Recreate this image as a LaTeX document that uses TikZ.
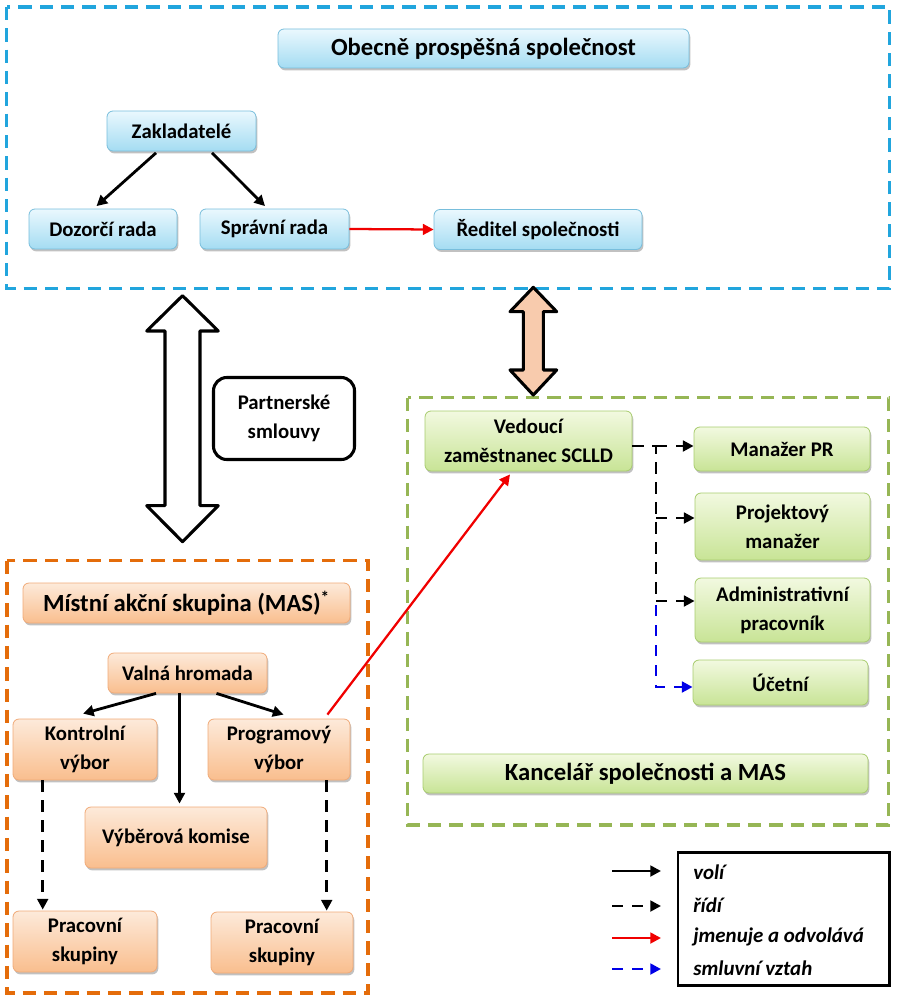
\documentclass[tikz,border=0pt]{standalone}
\usepackage{fontspec}
\setmainfont{Carlito}
\usetikzlibrary{arrows.meta,shadows,calc}
\definecolor{bluedash}{RGB}{33,165,221}
\definecolor{bluetop}{RGB}{234,248,254}
\definecolor{bluebot}{RGB}{164,220,242}
\definecolor{bluebd}{RGB}{120,190,220}
\definecolor{greendash}{RGB}{150,182,85}
\definecolor{greentop}{RGB}{242,249,224}
\definecolor{greenbot}{RGB}{200,228,150}
\definecolor{greenbd}{RGB}{168,204,110}
\definecolor{orangedash}{RGB}{228,108,10}
\definecolor{orangetop}{RGB}{253,234,218}
\definecolor{orangebot}{RGB}{249,190,142}
\definecolor{orangebd}{RGB}{240,170,120}
\definecolor{peach}{RGB}{248,203,173}
\definecolor{myred}{RGB}{240,0,0}
\definecolor{myblue}{RGB}{0,0,230}
\begin{document}
\begin{tikzpicture}[x=0.75pt,y=-0.75pt,
  sz/.style 2 args={minimum width=#1*0.75pt, minimum height=#2*0.75pt},
  base/.style={rectangle, rounded corners=4.5pt, inner sep=1pt, align=center,
    font=\bfseries\fontsize{15.6}{17.5}\selectfont,
    drop shadow={shadow xshift=1pt,shadow yshift=-1.8pt,opacity=0.35,fill=black!70}},
  two/.style={font=\bfseries\fontsize{15.6}{22}\selectfont},
  bigtext/.style={font=\bfseries\fontsize{18.5}{20}\selectfont},
  bluebox/.style={base, draw=bluebd, line width=0.6pt, top color=bluetop, bottom color=bluebot},
  greenbox/.style={base, draw=greenbd, line width=0.6pt, top color=greentop, bottom color=greenbot},
  orangebox/.style={base, draw=orangebd, line width=0.6pt, top color=orangetop, bottom color=orangebot},
  frame/.style={line width=2.3pt, dash pattern=on 10pt off 6pt},
  voli/.style={-{Triangle[length=8pt,width=8pt]}, line width=2.1pt, draw=black},
  ridi/.style={voli, dash pattern=on 8.5pt off 6.5pt},
  ridiline/.style={line width=2.1pt, dash pattern=on 8.5pt off 6.5pt},
  jmen/.style={-{Triangle[length=8pt,width=8pt]}, line width=1.7pt, draw=myred},
  smluv/.style={ridi, draw=myblue},
  legtext/.style={anchor=west, inner sep=0pt, font=\bfseries\itshape\fontsize{15.7}{17}\selectfont},
  bigarrow/.style={line width=2.3pt, line join=round, draw=black}
]
\useasboundingbox (0,0) rectangle (899,999);

% ---------- frames ----------
\draw[frame, draw=bluedash] (6.5,7) rectangle (889.5,288.5);
\draw[frame, draw=greendash] (407.5,397.5) rectangle (888.5,825);
\draw[frame, draw=orangedash] (7,560.5) rectangle (368,993);

% ---------- top: Obecne prospesna spolecnost ----------
\node[bluebox, bigtext, sz={411}{39}] (title) at (483.5,48.5) {Obecně prospěšná společnost};
\node[bluebox, sz={149}{40}] (zak) at (181.5,131) {Zakladatelé};
\node[bluebox, sz={148}{40}] (doz) at (103,229) {Dozorčí rada};
\node[bluebox, sz={149}{40}] (spr) at (274.5,229) {Správní rada};
\node[bluebox, sz={208}{40}] (red) at (538,229.5) {Ředitel společnosti};

\draw[voli] ($(zak.south)+(-25.5,1.5)$) -- ($(doz.north)+(-6.5,-2.5)$);
\draw[voli] ($(zak.south)+(30.5,1.5)$) -- ($(spr.north)+(-9.5,-2.5)$);
\draw[jmen] (spr.east) -- (red.west);

% ---------- big double arrows ----------
\draw[bigarrow, fill=white] (182.5,295.7) -- (218.3,331) -- (200,331) -- (200,505.7) -- (218.3,505.7)
  -- (182.5,541.7) -- (146.7,505.7) -- (165,505.7) -- (165,331) -- (146.7,331) -- cycle;
\draw[bigarrow, fill=peach] (533.3,287.3) -- (556.7,311.7) -- (543.3,311.7) -- (543.3,370) -- (556.7,370)
  -- (533.3,395) -- (510,370) -- (523.3,370) -- (523.3,311.7) -- (510,311.7) -- cycle;

\node[draw=black, line width=2.3pt, rounded corners=10pt, sz={141}{82}, align=center,
  font=\bfseries\fontsize{15.6}{22}\selectfont] (partner) at (284,418.5) {Partnerské\\smlouvy};

% ---------- right: kancelar ----------
\node[greenbox, two, sz={207}{60}] (vedouci) at (528.5,441) {Vedoucí\\zaměstnanec SCLLD};
\node[greenbox, sz={176}{44}] (manazer) at (782,449) {Manažer PR};
\node[greenbox, two, sz={175}{67}] (projekt) at (782.5,526.5) {Projektový\\manažer};
\node[greenbox, two, sz={175}{64}] (admin) at (782.5,610) {Administrativní\\pracovník};
\node[greenbox, sz={175}{45}] (ucetni) at (780.5,682.5) {Účetní};
\node[greenbox, bigtext, sz={445}{39}] (kancelar) at (645.5,773.5) {Kancelář společnosti a MAS};

\coordinate (j) at (656,446);
\draw[ridiline] ($(vedouci.east)+(0,5)$) -- (j) -- (656,601);
\draw[ridi] (j) -- ($(manazer.west)+(0,-3)$);
\draw[ridi] (656,518) -- ($(projekt.west)+(0,-8.5)$);
\draw[ridi] (656,601) -- ($(admin.west)+(0,-9)$);
\draw[smluv] (656,605) |- ($(ucetni.west)+(0,4.5)$);

% ---------- left: MAS ----------
\node[orangebox, bigtext, sz={327}{40}] (mas) at (186.5,603) {Místní akční skupina (MAS)\textsuperscript{*}};
\node[orangebox, sz={159}{40}] (valna) at (187.5,673) {Valná hromada};
\node[orangebox, two, sz={144}{61}] (kontrol) at (85,749.5) {Kontrolní\\výbor};
\node[orangebox, two, sz={142}{61}] (program) at (279,749.5) {Programový\\výbor};
\node[orangebox, sz={182}{61}] (vyber) at (176,837.5) {Výběrová komise};
\node[orangebox, two, sz={144}{61}] (prac1) at (85,941.5) {Pracovní\\skupiny};
\node[orangebox, two, sz={142}{61}] (prac2) at (282,942.5) {Pracovní\\skupiny};

\draw[voli] ($(valna.south)+(-31.5,0)$) -- ($(kontrol.north)+(-2,-5)$);
\draw[voli] ($(valna.south)+(29,0)$) -- ($(program.north)+(4.5,-4)$);
\draw[voli] ($(valna.south)+(-8,0)$) -- ($(vyber.north)+(3.5,-3)$);
\draw[ridi] ($(kontrol.south)+(-42.3,0)$) -- ($(prac1.north)+(-42.3,-1)$);
\draw[ridi] ($(program.south)+(47.7,0)$) -- ($(prac2.north)+(44.7,-1)$);

\draw[jmen] ($(program.north east)+(-23,-4)$) -- ($(vedouci.south)+(-18.5,3)$);

% ---------- legend ----------
\draw[line width=1.6pt] (678,852.5) rectangle (889.5,985.5);
\coordinate (l1a) at (612,871); \coordinate (l1b) at (661,871);
\coordinate (l2a) at (612,906); \coordinate (l2b) at (661,906);
\coordinate (l3a) at (612,938); \coordinate (l3b) at (661,938);
\coordinate (l4a) at (612,969); \coordinate (l4b) at (661,969);
\draw[voli] (l1a) -- (l1b);
\draw[ridi] (l2a) -- (l2b);
\draw[jmen, line width=2.1pt] (l3a) -- (l3b);
\draw[smluv] (l4a) -- (l4b);
\node[legtext] (t1) at (693,872) {volí};
\node[legtext] (t2) at (693,905) {řídí};
\node[legtext] (t3) at (693,937) {jmenuje a odvolává};
\node[legtext] (t4) at (693,968) {smluvní vztah};
\end{tikzpicture}
\end{document}
